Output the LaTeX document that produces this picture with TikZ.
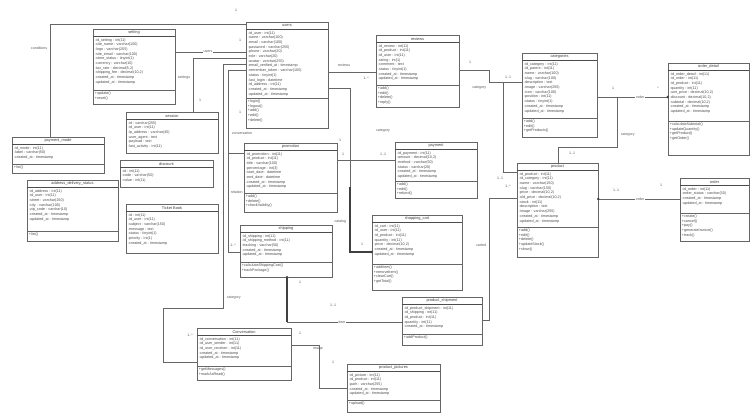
\documentclass[tikz,border=0pt]{standalone}
\usepackage{fontspec}
\newfontfamily\umlfont{Liberation Sans}
\usetikzlibrary{fit,calc}

\newcommand\umlbodyfont{\umlfont\fontsize{3.7}{4.7}\selectfont}
\newcommand\umltitlefont{\umlfont\fontsize{3.9}{4.2}\selectfont}
\newcommand\umllabelfont{\umlfont\fontsize{3.6}{4}\selectfont}

\tikzset{
  classbox/.style={draw=black!60, line width=0.5pt, fill=white, inner sep=0pt},
  ctitle/.style={font=\umltitlefont, text=black!75, inner sep=0pt},
  cbody/.style={font=\umlbodyfont, text=black!70, align=left, anchor=north west, inner sep=0pt},
  titlerule/.style={draw=black!70, line width=0.9pt},
  midrule/.style={draw=black!60, line width=0.6pt},
  link/.style={draw=black!60, line width=0.6pt},
  heavylink/.style={draw=black!75, line width=1.4pt},
  lbl/.style={font=\umllabelfont, text=black!65, inner sep=0.6pt},
  onlbl/.style={lbl, fill=white},
  enddot/.style={fill=black!75},
}

% class with title, attribute block and operation block
\newcommand\umlclass[9]{%
  \node[classbox, fit={(#2,#3) (#4,#5)}] (#1) {};
  \node[ctitle] (#1-t) at ([yshift=-4pt]#1.north) {#7};
  \draw[titlerule] ([yshift=-8pt]#1.north west) -- ([yshift=-8pt]#1.north east);
  \node[cbody] (#1-a) at ([xshift=2pt,yshift=-9.4pt]#1.north west) {#8};
  \draw[midrule] (#1.west |- 0,#6) -- (#1.east |- 0,#6);
  \node[cbody] (#1-m) at ($(#1.west |- 0,#6)+(2,1.5)$) {#9};
}
% class with title and attributes only
\newcommand\umlplain[7]{%
  \node[classbox, fit={(#2,#3) (#4,#5)}] (#1) {};
  \node[ctitle] (#1-t) at ([yshift=-4pt]#1.north) {#6};
  \draw[titlerule] ([yshift=-8pt]#1.north west) -- ([yshift=-8pt]#1.north east);
  \node[cbody] (#1-a) at ([xshift=2pt,yshift=-9.4pt]#1.north west) {#7};
}

\begin{document}
\begin{tikzpicture}[x=1pt,y=-1pt]
\useasboundingbox (0,0) rectangle (750,417);
\fill[white] (0,0) rectangle (750,417);

% ---------------- classes ----------------
\umlclass{setting}{93}{29}{175}{104}{90}{setting}
{-id\_setting : int(11)\\-site\_name : varchar(100)\\-logo : varchar(255)\\-site\_email : varchar(100)\\-store\_status : tinyint(1)\\-currency : varchar(10)\\-tax\_rate : decimal(5,2)\\-shipping\_fee : decimal(10,2)\\-created\_at : timestamp\\-updated\_at : timestamp}
{+update()\\+reset()}

\umlclass{users}{246}{22}{328}{128}{98}{users}
{-id\_user : int(11)\\-name : varchar(100)\\-email : varchar(100)\\-password : varchar(255)\\-phone : varchar(20)\\-role : varchar(20)\\-avatar : varchar(255)\\-email\_verified\_at : timestamp\\-remember\_token : varchar(100)\\-status : tinyint(1)\\-last\_login : datetime\\-id\_address : int(11)\\-created\_at : timestamp\\-updated\_at : timestamp}
{+login()\\+logout()\\+add()\\+edit()\\+delete()}

\umlclass{reviews}{376}{35}{459}{107}{85}{reviews}
{-id\_review : int(11)\\-id\_product : int(11)\\-id\_user : int(11)\\-rating : int(1)\\-comment : text\\-status : tinyint(1)\\-created\_at : timestamp\\-updated\_at : timestamp}
{+add()\\+edit()\\+delete()\\+reply()}

\umlclass{cats}{522}{53}{597}{137}{118}{categories}
{-id\_category : int(11)\\-id\_parent : int(11)\\-name : varchar(100)\\-slug : varchar(100)\\-description : text\\-image : varchar(255)\\-icon : varchar(100)\\-position : int(11)\\-status : tinyint(1)\\-created\_at : timestamp\\-updated\_at : timestamp}
{+add()\\+edit()\\+getProducts()}

\umlclass{orderdet}{668}{63}{749}{155}{121}{order\_detail}
{-id\_order\_detail : int(11)\\-id\_order : int(11)\\-id\_product : int(11)\\-quantity : int(11)\\-unit\_price : decimal(10,2)\\-discount : decimal(10,2)\\-subtotal : decimal(10,2)\\-created\_at : timestamp\\-updated\_at : timestamp}
{+calculateSubtotal()\\+updateQuantity()\\+getProduct()\\+getOrder()}

\umlclass{paymode}{12}{137}{104}{173}{164}{payment\_mode}
{-id\_mode : int(11)\\-label : varchar(50)\\-created\_at : timestamp}
{+list()}

\umlclass{address}{27}{180}{118}{241}{231}{address\_delivery\_status}
{-id\_address : int(11)\\-id\_user : int(11)\\-street : varchar(150)\\-city : varchar(100)\\-zip\_code : varchar(10)\\-created\_at : timestamp\\-updated\_at : timestamp}
{+list()}

\umlplain{session}{126}{112}{218}{153}{session}
{-id : varchar(255)\\-id\_user : int(11)\\-ip\_address : varchar(45)\\-user\_agent : text\\-payload : text\\-last\_activity : int(11)}

\umlplain{discount}{120}{160}{213}{187}{discount}
{-id : int(11)\\-code : varchar(50)\\-value : int(11)}

\umlplain{ticket}{126}{204}{218}{253}{Ticket Book}
{-id : int(11)\\-id\_user : int(11)\\-subject : varchar(150)\\-message : text\\-status : tinyint(1)\\-priority : int(1)\\-created\_at : timestamp}

\umlclass{promotion}{244}{143}{337}{212}{193}{promotion}
{-id\_promotion : int(11)\\-id\_product : int(11)\\-title : varchar(100)\\-percentage : int(3)\\-start\_date : datetime\\-end\_date : datetime\\-created\_at : timestamp\\-updated\_at : timestamp}
{+add()\\+delete()\\+checkValidity()}

\umlclass{shipping}{240}{225}{332}{277}{262}{shipping}
{-id\_shipping : int(11)\\-id\_shipping\_method : int(11)\\-tracking : varchar(50)\\-created\_at : timestamp\\-updated\_at : timestamp}
{+calculateShippingCost()\\+trackPackage()}

\umlclass{payment}{395}{142}{477}{198}{181}{payment}
{-id\_payment : int(11)\\-amount : decimal(10,2)\\-method : varchar(50)\\-status : varchar(20)\\-created\_at : timestamp\\-updated\_at : timestamp}
{+add()\\+edit()\\+refund()}

\umlclass{cart}{372}{215}{462}{290}{264}{shopping\_cart}
{-id\_cart : int(11)\\-id\_user : int(11)\\-id\_product : int(11)\\-quantity : int(11)\\-price : decimal(10,2)\\-created\_at : timestamp\\-updated\_at : timestamp}
{+addItem()\\+removeItem()\\+clearCart()\\+getTotal()}

\umlclass{product}{517}{163}{598}{257}{227}{product}
{-id\_product : int(11)\\-id\_category : int(11)\\-name : varchar(150)\\-slug : varchar(150)\\-price : decimal(10,2)\\-old\_price : decimal(10,2)\\-stock : int(11)\\-description : text\\-image : varchar(255)\\-created\_at : timestamp\\-updated\_at : timestamp}
{+add()\\+edit()\\+delete()\\+updateStock()\\+show()}

\umlclass{order}{680}{178}{749}{241}{213}{order}
{-id\_order : int(11)\\-order\_status : varchar(30)\\-created\_at : timestamp\\-updated\_at : timestamp}
{+create()\\+cancel()\\+pay()\\+generateInvoice()\\+track()}

\umlclass{conv}{197}{328}{291}{380}{366}{Conversation}
{-id\_conversation : int(11)\\-id\_user\_sender : int(11)\\-id\_user\_receiver : int(11)\\-created\_at : timestamp\\-updated\_at : timestamp}
{+getMessages()\\+markAsRead()}

\umlclass{pictures}{347}{364}{440}{412}{400}{product\_pictures}
{-id\_picture : int(11)\\-id\_product : int(11)\\-path : varchar(255)\\-created\_at : timestamp\\-updated\_at : timestamp}
{+upload()}

\umlclass{shipment}{402}{297}{482}{345}{334}{product\_shipment}
{-id\_product\_shipment : int(11)\\-id\_shipping : int(11)\\-id\_product : int(11)\\-quantity : int(11)\\-created\_at : timestamp}
{+addProduct()}

% ---------------- associations ----------------
\draw[link] (users.west |- 0,24) -- (50,24) -- (paymode.north -| 50,0);
\node[lbl, anchor=east] (l-cond) at (48,48) {conditions};
\node[lbl] (l-top) at (236,10) {1};

\draw[link] (setting.east |- 0,52) -- (users.west |- 0,52);
\node[onlbl] (l-user) at (208,52) {users};

\draw[link] (session.north -| 193,0) -- (193,58) -- (users.west |- 0,58);
\node[lbl, anchor=east] (l-set) at (191,78) {settings};
\node[lbl] (l-s1) at (200,100) {1};

% users to conversation, routed round the left column
\draw[link] (users.west |- 0,64) -- (223,64) -- (223,308) -- (163,308) -- (163,362) -- (conv.west |- 0,362);
\node[lbl, anchor=west] (l-cat) at (226,298) {category};
\node[lbl] (l-cv1) at (190,335) {1..*};

% users to shipping and promotion
\draw[link] (users.west |- 0,70) -- (228,70) -- (228,252) -- (shipping.west |- 0,252);
\draw[link] (users.west |- 0,70) -- (228,70) -- (228,153) -- (promotion.west |- 0,153);
\node[lbl, anchor=west] (l-conv) at (231,133) {conversation};
\node[lbl, anchor=west] (l-prod) at (230,192) {relation};
\node[lbl] (l-sh1) at (233,245) {1..*};
\node[lbl] (l-u1) at (240,40) {1};
\node[lbl] (l-u2) at (240,112) {1};

\draw[link] (users.east |- 0,72) -- (reviews.west |- 0,72);
\node[lbl] (l-rev) at (344,65) {reviews};
\node[lbl] (l-r1) at (366,78) {1..*};

% users to shopping cart: thin from the users side, heavy towards the cart
\coordinate (jcart) at (350,187);
\draw[link] (users.east |- 0,88) -- (350,88) -- (jcart);
\draw[heavylink] (jcart) -- (350,252) -- (cart.west |- 0,252);
\fill[enddot] (cart.west |- 0,252) circle (1.3pt);
\node[lbl] (l-c1) at (340,140) {1};
\node[lbl, anchor=east] (l-cata) at (347,222) {catalog};
\node[lbl] (l-c2) at (362,244) {1};

\draw[link] (reviews.east |- 0,70) -- (489,70) -- (489,82) -- (cats.west |- 0,82);
\node[lbl] (l-rp) at (470,62) {1};
\node[lbl, anchor=east] (l-rc) at (487,88) {category};
\node[lbl] (l-r2) at (508,77) {1..1};

\draw[link] (cats.east |- 0,97) -- (orderdet.west |- 0,97);
\fill[enddot] (orderdet.west |- 0,97) circle (1.3pt);
\node[onlbl] (l-ord) at (640,97) {order};
\node[lbl] (l-o1) at (613,88) {1};
\node[lbl] (l-o2) at (658,88) {*};

\draw[link] (cats.east |- 0,97) -- (617,97) -- (617,147) -- (558,147) -- (product.north -| 558,0);
\node[lbl, anchor=west] (l-sub) at (620,135) {category};
\node[lbl] (l-s2) at (572,153) {1..1};

\draw[link] (cats.west |- 0,82) -- (503,82) -- (503,172) -- (product.west |- 0,172);
\node[lbl] (l-p1) at (500,178) {1..1};

\draw[link] (product.west |- 0,198) -- (489,198) -- (489,320) -- (shipment.east |- 0,320);
\node[lbl] (l-p2) at (508,186) {1..*};
\node[lbl, anchor=east] (l-carted) at (487,245) {carted};

\draw[link] (product.east |- 0,199) -- (order.west |- 0,199);
\fill[enddot] (product.east |- 0,199) circle (1.3pt);
\node[onlbl] (l-ord2) at (640,199) {order};
\node[lbl] (l-o3) at (616,190) {1..1};
\node[lbl] (l-o4) at (661,185) {1};

\draw[link] (promotion.east |- 0,160) -- (payment.west |- 0,160);
\node[lbl] (l-pm1) at (343,154) {1};
\node[lbl] (l-pm2) at (383,154) {1..1};
\node[lbl] (l-pay) at (383,131) {category};

% shipping to product shipment: heavy drop, thin run
\coordinate (jship) at (287,322);
\draw[heavylink] (shipping.south -| 287,0) -- (jship);
\draw[link] (jship) -- (shipment.west |- 0,322);
\fill[enddot] (shipping.south -| 287,0) circle (1.3pt);
\node[onlbl] (l-item) at (342,322) {item};
\node[lbl] (l-i1) at (300,282) {1};
\node[lbl] (l-i2) at (333,305) {1..1};

\draw[link] (conv.east |- 0,345) -- (319,345) -- (319,388) -- (pictures.west |- 0,388);
\node[lbl] (l-img) at (318,349) {image};
\node[lbl] (l-g1) at (300,333) {1};
\node[lbl] (l-g2) at (333,362) {1};

\end{tikzpicture}
\end{document}
